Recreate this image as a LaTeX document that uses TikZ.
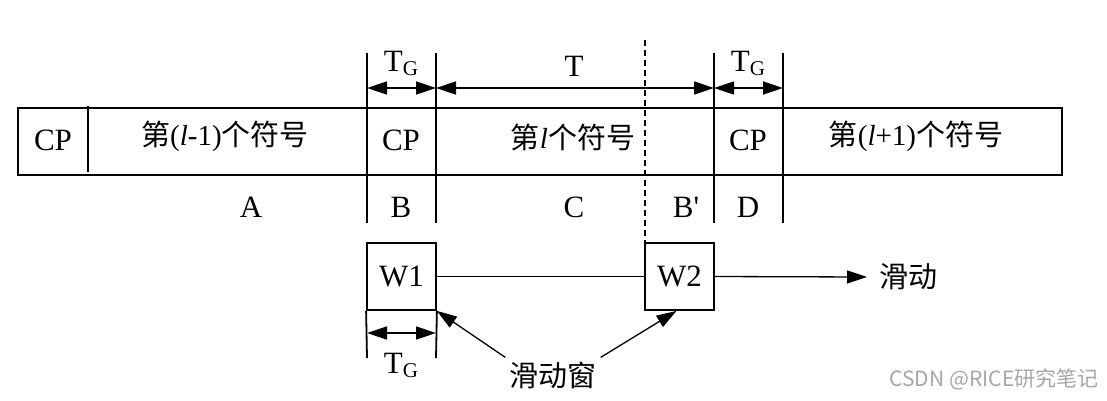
\documentclass[tikz,border=0pt]{standalone}
\usepackage{fontspec}
\setmainfont{Liberation Serif}[Ligatures=TeXReset]
\newfontfamily\cjk{Noto Sans CJK SC}
\usetikzlibrary{arrows.meta}
\tikzset{
  frame/.style={line width=2pt},
  vline/.style={line width=1.8pt},
  dline/.style={line width=1.2pt, dash pattern=on 6pt off 4pt},
  dim/.style={line width=1.6pt, {Triangle[length=20pt,width=13pt]}-{Triangle[length=20pt,width=13pt]}},
  thinarrow/.style={line width=1.3pt, -{Triangle[length=20pt,width=13pt]}},
  lbl/.style={font=\fontsize{31}{31}\selectfont, inner sep=0pt},
  clbl/.style={font=\fontsize{29}{29}\selectfont, inner sep=0pt},
  win/.style={draw, line width=1.8pt, minimum width=69pt, minimum height=67pt, inner sep=0pt, font=\fontsize{31}{31}\selectfont},
}
\newcommand{\TGlab}{T\raisebox{-4pt}{\fontsize{21}{21}\selectfont G}}
\begin{document}
\begin{tikzpicture}[x=1pt,y=-1pt]
\useasboundingbox (0,0) rectangle (1107,400);
% main bar
\draw[frame] (18,108) rectangle (1062,175);
\draw[vline] (88,106) -- (88,172);
% vertical markers
\coordinate (v1t) at (367,53); \coordinate (v1b) at (367,223);
\coordinate (v2t) at (436,53); \coordinate (v2b) at (436,223);
\coordinate (v3t) at (714,53); \coordinate (v3b) at (714,223);
\coordinate (v4t) at (783,53); \coordinate (v4b) at (783,223);
\draw[vline] (v1t) -- (v1b);
\draw[vline] (v2t) -- (v2b);
\draw[vline] (v3t) -- (v3b);
\draw[vline] (v4t) -- (v4b);
\coordinate (dt) at (645,40); \coordinate (db) at (645,243);
\draw[dline] (dt) -- (db);
% dimension arrows
\coordinate (a1) at (367,88); \coordinate (a2) at (436,88);
\coordinate (a3) at (714,88); \coordinate (a4) at (783,88);
\draw[dim] (a1) -- (a2);
\draw[dim] (a2) -- (a3);
\draw[dim] (a3) -- (a4);
\node[lbl] (tg1) at (401,63) {\TGlab};
\node[lbl] (t) at (574,66) {T};
\node[lbl] (tg2) at (748,63) {\TGlab};
% texts in bar
\node[lbl] (cp0) at (53,140) {CP};
\node[clbl] (s0) at (225,136) {{\cjk 第}(\textit{l}-1){\cjk 个符号}};
\node[lbl] (cp1) at (401,140) {CP};
\node[clbl] (s1) at (573,137) {{\cjk 第}\textit{l}{\cjk 个符号}};
\node[lbl] (cp2) at (748,140) {CP};
\node[clbl] (s2) at (916,136) {{\cjk 第}(\textit{l}+1){\cjk 个符号}};
% labels below
\node[lbl] (A) at (251,207) {A};
\node[lbl] (B) at (401,207) {B};
\node[lbl] (C) at (574,207) {C};
\node[lbl] (Bp) at (686,207) {B'};
\node[lbl] (D) at (748,207) {D};
% windows
\node[win] (W1) at (401.5,276.5) {W1};
\node[win] (W2) at (679.5,276.5) {W2};
\draw[line width=1.3pt] (W1.east) -- (W2.west);
\node[clbl, anchor=west, inner xsep=12pt] (sl) at (867,277) {\cjk 滑动};
\draw[thinarrow] (W2.east) -- (sl.west);
% TG under W1
\coordinate (w1l) at (367,358); \coordinate (w1r) at (436,358);
\draw[vline] (W1.south west) -- (w1l);
\draw[vline] (W1.south east) -- (w1r);
\coordinate (b1) at (367,333); \coordinate (b2) at (436,333);
\draw[dim] (b1) -- (b2);
\node[lbl] (tg3) at (401,365) {\TGlab};
% sliding window label
\node[clbl, inner sep=4pt] (slw) at (553,375) {\cjk 滑动窗};
\draw[thinarrow] (slw.north west) -- (W1.south east);
\draw[thinarrow] (slw.north east) -- ([xshift=-3pt]W2.south);
% watermark
\node[inner sep=0pt, text=black!35, font=\cjk\fontsize{21}{21}\selectfont] (wm) at (994,379) {CSDN @RICE研究笔记};
\end{tikzpicture}
\end{document}
